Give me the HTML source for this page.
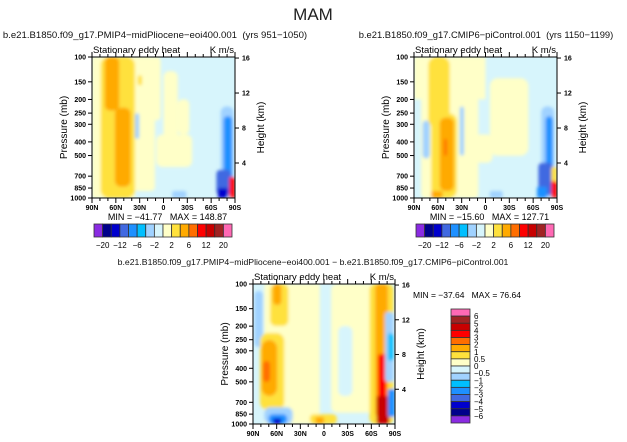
<!DOCTYPE html>
<html><head><meta charset="utf-8"><style>
html,body{margin:0;padding:0;background:#fff;width:627px;height:442px;overflow:hidden}
svg{display:block;font-family:"Liberation Sans",sans-serif}
text{white-space:pre}
</style></head><body>
<svg id="fig" width="627" height="442" viewBox="0 0 627 442" xmlns="http://www.w3.org/2000/svg">
<defs><filter id="soft" x="-5%" y="-5%" width="110%" height="110%"><feGaussianBlur stdDeviation="1.6"/></filter></defs>
<text x="313" y="20" text-anchor="middle" font-size="17" fill="#222">MAM</text>
</svg>
<script>
const pressureTicks=[100,150,200,250,300,400,500,700,850,1000];
const heightTicks=[16,12,8,4];
const latTicks=["90N","60N","30N","0","30S","60S","90S"];
const fullColors=["#8a2be2","#00008b","#0000cd","#4169e1","#1e90ff","#00bfff","#a0d2ff","#d7f5fc","#ffffc8","#ffe13c","#ffaa00","#ff6e00","#ff0000","#c80000","#a02323","#ff69b4"];
const fullLabels=["-20","-12","-6","-2","2","6","12","20"];
const diffColors=["#ff69b4","#a02323","#c80000","#ff0000","#ff6e00","#ffaa00","#ffe13c","#ffffc8","#d7f5fc","#a0d2ff","#00bfff","#1e90ff","#4169e1","#0000cd","#00008b","#8a2be2"];
const diffLabels=["6","5","4","3","2","1","0.5","0","-0.5","-1","-2","-3","-4","-5","-6"];
const panelTitles=["b.e21.B1850.f09_g17.PMIP4\u2212midPliocene\u2212eoi400.001  (yrs 951\u22121050)","b.e21.B1850.f09_g17.CMIP6\u2212piControl.001  (yrs 1150\u22121199)","b.e21.B1850.f09_g17.PMIP4\u2212midPliocene\u2212eoi400.001 \u2212 b.e21.B1850.f09_g17.CMIP6\u2212piControl.001"];
const titleSizes=[9.6,9.4,8.7];
const minmax=[["-41.77","148.87"],["-15.60","127.71"],["-37.64","76.64"]];
const svg=document.getElementById('fig');
const NS="http://www.w3.org/2000/svg";
function mk(t,a,p){const e=document.createElementNS(NS,t);for(const k in a)e.setAttribute(k,a[k]);(p||svg).appendChild(e);return e;}
function txt(s,a,p){const e=mk('text',a,p);e.textContent=s;return e;}
const shapes=[
 [["#ffffc8",0,0,0.3,1,0],["#ffffc8",0.28,0,0.48,0.45,4],["#ffffc8",0.28,0.4,0.44,0.95,4],["#ffffc8",0.5,0.1,0.6,0.6,6],["#ffffc8",0.45,0.55,0.7,0.78,6],["#ffffc8",0.6,0.3,0.68,0.55,5],["#a0d2ff",0.3,0.4,0.33,0.58,2],
  ["#ffe13c",0.06,0,0.3,1,8],["#ffaa00",0.09,0,0.19,0.38,5],["#ffaa00",0.16,0.36,0.27,0.92,6],["#ffe13c",0.32,0.13,0.35,0.2,2],
  ["#a0d2ff",0.56,0.95,0.66,1,2],["#a0d2ff",0.9,0.35,0.99,1,6],["#1e90ff",0.92,0.42,0.98,0.92,4],["#4169e1",0.87,0.8,0.97,0.98,4],["#0000cd",0.88,0.93,0.95,1,2],["#ff0000",0.96,0.85,1,1,2]],
 [["#ffffc8",0,0,0.5,0.3,0],["#ffffc8",0.05,0.25,0.45,1,4],["#a0d2ff",0.06,0.45,0.11,0.72,4],["#ffffc8",0.53,0.15,0.8,0.7,8],["#ffffc8",0.4,0.55,0.55,0.75,6],
  ["#ffe13c",0.1,0,0.25,0.5,8],["#ffe13c",0.12,0.4,0.3,1,8],["#ffaa00",0.18,0.43,0.28,0.95,6],["#ff6e00",0.21,0.58,0.23,0.7,2],["#ffaa00",0.12,0.95,0.2,1,2],
  ["#a0d2ff",0.32,0.35,0.35,0.7,3],["#a0d2ff",0.53,0.95,0.62,1,2],["#a0d2ff",0.89,0.35,0.98,1,6],["#1e90ff",0.92,0.42,0.97,0.78,4],["#4169e1",0.87,0.75,0.97,0.98,4],["#1e90ff",0.86,0.92,0.93,1,2],["#ffe13c",0.96,0.78,1,0.9,2],["#ff0000",0.96,0.88,1,1,2]],
 [["#ffffc8",0.08,0,0.47,1,0],["#ffffc8",0.55,0,0.85,0.92,6],["#d7f5fc",0.6,0.3,0.7,0.8,6],["#a0d2ff",0.01,0.05,0.07,0.45,4],
  ["#ffe13c",0.05,0.35,0.22,0.9,8],["#ffaa00",0.06,0.4,0.17,0.8,8],["#ff6e00",0.07,0.55,0.12,0.7,4],
  ["#ffe13c",0.12,0,0.25,0.3,6],["#ffaa00",0.14,0,0.2,0.15,4],
  ["#a0d2ff",0.08,0.88,0.28,1,6],["#1e90ff",0.11,0.93,0.24,1,4],["#0000cd",0.14,0.96,0.2,1,2],
  ["#ffe13c",0.4,0.93,0.59,1,4],["#ffaa00",0.44,0.95,0.5,1,2],
  ["#ffe13c",0.82,0,0.99,1,6],["#ffaa00",0.86,0,0.95,0.95,4],["#ff0000",0.88,0.5,0.94,0.85,3],["#a0d2ff",0.93,0.2,0.99,0.7,3],["#00bfff",0.95,0.35,0.99,0.55,3],["#c80000",0.87,0.8,0.96,1,2],["#1e90ff",0.95,0.75,1,0.95,2]]
];
const panels=[{x:92,y:57,w:143,h:141,tx:155},{x:414,y:57,w:143,h:141,tx:486},{x:253,y:284,w:142,h:140,tx:313}];
panels.forEach((P,i)=>{
 const g=mk('g',{});
 
 
 const yP=p=>P.y+P.h*Math.log(p/100)/Math.log(10);
 const xU=u=>P.x+P.w*u;
 const t=txt(panelTitles[i],{x:P.tx,y:P.y-19,'text-anchor':'middle','font-size':titleSizes[i],fill:'#111'},g);
 
 txt("Stationary eddy heat",{x:P.x+1,y:P.y-4,'font-size':9.5},g);
 txt("K m/s",{x:P.x+P.w-1,y:P.y-4,'font-size':9.5,'text-anchor':'end'},g);
 const cid='clip'+i;const cp=mk('clipPath',{id:cid},g);mk('rect',{x:P.x,y:P.y,width:P.w,height:P.h},cp);
 const f=mk('g',{'clip-path':'url(#'+cid+')'},g);
 
 mk('rect',{x:P.x,y:P.y,width:P.w,height:P.h,fill:'#d7f5fc'},f);
 const sf=mk('g',{filter:'url(#soft)'},f);
 shapes[i].forEach(s=>{mk('rect',{x:xU(s[1]),y:P.y+P.h*s[2],width:P.w*(s[3]-s[1]),height:P.h*(s[4]-s[2]),rx:s[5],fill:s[0]},sf);});
 mk('rect',{x:P.x,y:P.y,width:P.w,height:P.h,fill:'none',stroke:'#000','stroke-width':1},g);
 pressureTicks.forEach(p=>{const y=yP(p);mk('line',{x1:P.x-4,x2:P.x,y1:y,y2:y,stroke:'#000'},g);
  txt(String(p),{x:P.x-6,y:y+2.5,'font-size':7,'font-weight':'bold','text-anchor':'end'},g);});
 heightTicks.forEach(h=>{const p=1000*Math.exp(-h/7);const y=yP(p);mk('line',{x1:P.x+P.w,x2:P.x+P.w+4,y1:y,y2:y,stroke:'#000'},g);
  txt(String(h),{x:P.x+P.w+7,y:y+2.5,'font-size':7,'font-weight':'bold'},g);});
 for(let k=0;k<=18;k++){const x=xU(k/18);const L=k%3==0?5:3;
  mk('line',{x1:x,x2:x,y1:P.y+P.h,y2:P.y+P.h+L,stroke:'#000'},g);mk('line',{x1:x,x2:x,y1:P.y,y2:P.y-L,stroke:'#000'},g);}
 latTicks.forEach((l,k)=>txt(l,{x:xU(k/6),y:P.y+P.h+12,'font-size':7,'font-weight':'bold','text-anchor':'middle'},g));
 txt("Pressure (mb)",{transform:`translate(${P.x-25},${P.y+P.h/2}) rotate(-90)`,'font-size':10,'text-anchor':'middle'},g);
 txt("Height (km)",{transform:`translate(${P.x+P.w+29},${P.y+P.h/2}) rotate(-90)`,'font-size':10,'text-anchor':'middle'},g);
 if(i<2){txt(`MIN = ${minmax[i][0].replace('-','\u2212')}   MAX = ${minmax[i][1]}`,{x:P.x+P.w/2+4,y:P.y+P.h+22,'font-size':9,'text-anchor':'middle'},g);}
 else{txt(`MIN = ${minmax[i][0].replace('-','\u2212')}   MAX = ${minmax[i][1]}`,{x:P.x+P.w+18,y:P.y+14,'font-size':8.5},g);}
});
[[94,224],[416,224]].forEach((b,j)=>{
 const g=mk('g',{});
 const w=138/fullColors.length;
 fullColors.forEach((c,k)=>mk('rect',{x:b[0]+k*w,y:b[1],width:w,height:13,fill:c,stroke:'#333','stroke-width':0.8},g));
 fullLabels.forEach((l,k)=>txt(l.replace('-','\u2212'),{x:b[0]+(2*k+1)*w,y:b[1]+24,'font-size':8,'text-anchor':'middle'},g));
});
(function(){const g=mk('g',{});
 const x=451,y=309,h=114/diffColors.length;
 diffColors.forEach((c,k)=>mk('rect',{x:x,y:y+k*h,width:19,height:h,fill:c,stroke:'#333','stroke-width':0.8},g));
 diffLabels.forEach((l,k)=>txt(l.replace('-','\u2212'),{x:x+23,y:y+(k+1)*h+3,'font-size':8},g));
})();
</script>
</body></html>
